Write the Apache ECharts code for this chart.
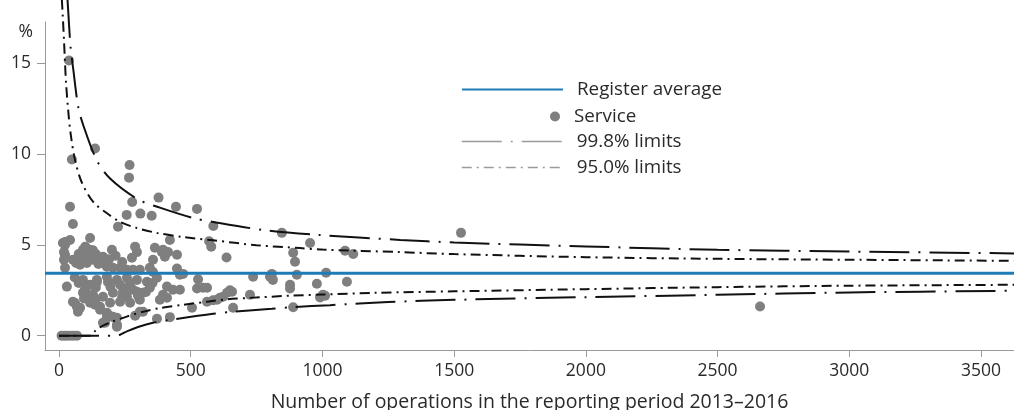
<!DOCTYPE html>
<html>
<head>
<meta charset="utf-8">
<script src="https://cdn.jsdelivr.net/npm/echarts@6/dist/echarts.min.js"></script>
<style>
  html, body { margin: 0; padding: 0; background: #fff; }
  #chart { width: 1014px; height: 410px; }
</style>
</head>
<body>
<div id="chart"></div>
<script>
// ---- data ----
const xTicks = [0, 500, 1000, 1500, 2000, 2500, 3000, 3500];
const yTicks = [0, 5, 10, 15];
const registerAverage = 3.44;
const xRange = [-53, 3625];
const yRange = [-0.79, 17.27];

// [operations, rate %]
const serviceData = [
  [10,0],[20,0],[30,0],[42,0],[55,0],[68,0],
  [38,15.15],[49,9.7],[137,10.3],[268,9.4],[266,8.7],[378,7.6],[42,7.1],[53,6.15],[278,7.36],
  [444,7.1],[524,6.98],[257,6.65],[309,6.72],[352,6.6],[224,6.0],[586,6.04],[570,5.2],[578,4.9],
  [636,4.3],[846,5.66],[953,5.1],[889,4.56],[896,4.07],[1086,4.67],[1117,4.5],
  [877,2.8],[877,2.6],[903,3.35],[737,3.24],[808,3.4],[812,3.07],[979,2.86],[1014,3.46],[1093,2.97],
  [991,2.1],[1010,2.2],[889,1.56],[661,1.54],[725,2.25],[649,2.5],[638,2.36],[611,2.09],[585,1.95],
  [562,1.87],[528,3.1],[562,2.64],[524,2.6],[505,1.54],[1526,5.66],[2661,1.61],
  [421,5.27],[414,4.6],[448,4.45],[364,4.84],[395,4.73],[357,4.18],[402,4.34],[357,3.5],[448,3.7],
  [459,3.35],[471,3.4],[410,2.7],[433,2.53],[459,2.53],[395,2.25],[383,1.98],[410,2.09],[421,1.02],
  [372,0.93],[319,1.32],[289,1.1],[205,1.04],[220,0.49],[167,0.71],[182,1.04],
  [118,5.38],[23,5.16],[42,5.27],[15,5.1],[19,4.6],[23,4.45],[19,4.18],[91,4.73],[118,4.73],[106,4.45],
  [87,4.29],[201,4.73],[167,4.34],[156,4.07],[289,4.9],[296,4.6],[277,4.29],[391,4.6],[53,4.18],
  [80,3.9],[106,4.0],[129,4.18],[182,3.79],[205,3.74],[232,3.74],[258,3.63],[281,3.63],[307,3.63],
  [345,3.74],[23,3.74],[30,2.7],[91,3.07],[118,2.8],[144,3.07],[182,3.24],[220,3.07],[258,3.19],
  [296,3.07],[334,2.97],[372,3.19],[91,2.36],[129,2.25],[167,2.14],[205,2.36],[243,2.42],[281,2.53],
  [319,2.36],[345,2.64],[53,1.87],[68,1.59],[118,1.81],[156,1.59],[194,1.81],[232,1.87],[270,1.81],
  [307,1.98],[156,1.43],[182,1.26],[201,1.04],[220,0.99],[175,0.71],[220,0.6],[307,1.32],
  [23,5.0],[129,4.7],[137,1.7],[186,1.15],[144,2.96],[186,2.96],[232,2.8],[270,2.9],[110,2.25],
  [258,2.14],[296,2.42],[61,1.8],[80,1.53],[72,1.32],[547,2.64],[600,1.98],[623,2.14],[657,2.42],
  [801,3.24],[1002,2.25],
  [65,4.0],[75,4.5],[100,4.9],[140,4.5],[150,3.95],[190,4.2],[215,4.4],[240,4.05],[60,3.2],
  [75,2.9],[100,2.6],[140,2.65],[195,2.7],[250,2.6],[330,2.4],[95,2.05],[140,2.0],[240,2.15],
  [300,2.2],[355,2.9]
];

const upper998 = [
  [32,18.6],[35,17.9],[44,15.9],[54,14.7],[73,12.6],[92,11.6],[143,9.67],[194,8.65],[300,7.5],
  [383,7.05],[509,6.48],[585,6.26],[775,5.82],[979,5.55],[1295,5.27],[1500,5.13],[2000,4.91],
  [2500,4.73],[3000,4.63],[3625,4.53]
];
const upper950 = [
  [11,18.5],[14,17.7],[19,16.3],[23,15.0],[27,13.9],[35,12.4],[44,11.15],[61,9.67],[86,8.46],
  [130,7.36],[181,6.75],[232,6.26],[295,5.93],[371,5.66],[467,5.44],[585,5.25],[750,4.98],
  [915,4.82],[1000,4.74],[1295,4.6],[1500,4.49],[2000,4.32],[2500,4.23],[3000,4.18],[3625,4.12]
];
const lower950 = [
  [0,0],[120,0],[140,0.3],[160,0.5],[200,0.76],[257,1.05],[319,1.32],[383,1.52],[471,1.7],
  [562,1.87],[638,2.0],[725,2.08],[877,2.2],[1000,2.26],[1200,2.36],[1500,2.44],[2000,2.56],
  [2500,2.67],[3000,2.75],[3625,2.8]
];
const lower998 = [
  [0,0],[215,0],[232,0.05],[260,0.25],[300,0.48],[357,0.71],[440,0.9],[585,1.2],[661,1.32],
  [808,1.48],[889,1.57],[1029,1.68],[1250,1.85],[1500,1.97],[2000,2.12],[2500,2.25],[3000,2.38],
  [3625,2.47]
];

// ---- chart ----
const FONT = '"Open Sans", "Noto Sans", sans-serif';
const dash998 = [40, 9, 2, 9];
const dash950 = [10, 5, 2, 5];
const NAME_AVG = 'Register average';
const NAME_SVC = 'Service';
const NAME_998 = '99.8% limits';
const NAME_950 = '95.0% limits';
const BLUE = '#1f7bb6';
const GREY_PT = '#7f7f7f';
const TEXT = '#2a2a2a';

function legendFor(name, left, top, w, h, extra) {
  return Object.assign({
    data: [name],
    left: left, top: top,
    orient: 'vertical',
    padding: 0,
    itemWidth: w, itemHeight: h,
    selectedMode: false,
    textStyle: { fontFamily: FONT, fontSize: 18.8, color: TEXT, padding: [0, 0, 0, 9] }
  }, extra || {});
}

const chart = echarts.init(document.getElementById('chart'), null, { renderer: 'canvas' });
chart.setOption({
  animation: false,
  backgroundColor: '#fff',
  grid: { left: 45, right: 0, top: 22, bottom: 60, containLabel: false, outerBoundsMode: 'none' },
  legend: [
    legendFor(NAME_AVG, 461, 80, 101, 14, { itemStyle: { opacity: 0 } }),
    legendFor(NAME_SVC, 550, 107, 10, 10),
    legendFor(NAME_998, 461, 132, 101, 14, { itemStyle: { opacity: 0 }, lineStyle: { color: '#9a9a9a', width: 1.5 } }),
    legendFor(NAME_950, 461, 158, 101, 14, { itemStyle: { opacity: 0 }, lineStyle: { color: '#9a9a9a', width: 1.5 } })
  ],
  xAxis: {
    type: 'value',
    min: xRange[0], max: xRange[1],
    name: 'Number of operations in the reporting period 2013\u20132016',
    nameLocation: 'middle',
    nameGap: 42,
    nameTextStyle: { fontFamily: FONT, fontSize: 19.5, color: TEXT },
    axisLine: { onZero: false, lineStyle: { color: '#9a9a9a', width: 1 } },
    axisTick: { show: true, length: 7, customValues: xTicks, lineStyle: { color: '#9a9a9a' } },
    axisLabel: { customValues: xTicks, formatter: v => String(v), fontFamily: FONT, fontSize: 17.5, color: TEXT, margin: 12 },
    splitLine: { show: false }
  },
  yAxis: {
    type: 'value',
    min: yRange[0], max: yRange[1],
    name: '%',
    nameLocation: 'end',
    nameGap: -1,
    nameTextStyle: { fontFamily: FONT, fontSize: 17.5, color: TEXT, align: 'right', verticalAlign: 'top', padding: [0, 12, 0, 0] },
    axisLine: { show: true, onZero: false, lineStyle: { color: '#9a9a9a', width: 1 } },
    axisTick: { show: true, length: 8, customValues: yTicks, lineStyle: { color: '#9a9a9a' } },
    axisLabel: { customValues: yTicks, formatter: v => String(v), fontFamily: FONT, fontSize: 17.5, color: TEXT, margin: 14 },
    splitLine: { show: false }
  },
  series: [
    {
      name: NAME_SVC, type: 'scatter', data: serviceData,
      symbol: 'circle', symbolSize: 10,
      itemStyle: { color: GREY_PT, opacity: 1 },
      z: 2, silent: true
    },
    {
      name: NAME_AVG, type: 'line',
      data: [[xRange[0], registerAverage], [xRange[1], registerAverage]],
      symbol: 'none', itemStyle: { color: BLUE }, lineStyle: { color: BLUE, width: 3 }, z: 4, silent: true
    },
    {
      name: NAME_998, type: 'line', data: upper998, symbol: 'none', smooth: 0.3, clip: false,
      itemStyle: { color: '#111' }, lineStyle: { color: '#111', width: 2, type: dash998 }, z: 3, silent: true
    },
    {
      name: NAME_998 + ' lower', type: 'line', data: lower998, symbol: 'none', smooth: 0.3, clip: false,
      itemStyle: { color: '#111' }, lineStyle: { color: '#111', width: 2, type: dash998 }, z: 3, silent: true
    },
    {
      name: NAME_950, type: 'line', data: upper950, symbol: 'none', smooth: 0.3, clip: false,
      itemStyle: { color: '#111' }, lineStyle: { color: '#111', width: 2, type: dash950 }, z: 3, silent: true
    },
    {
      name: NAME_950 + ' lower', type: 'line', data: lower950, symbol: 'none', smooth: 0.3, clip: false,
      itemStyle: { color: '#111' }, lineStyle: { color: '#111', width: 2, type: dash950 }, z: 3, silent: true
    }
  ]
});
</script>
</body>
</html>
